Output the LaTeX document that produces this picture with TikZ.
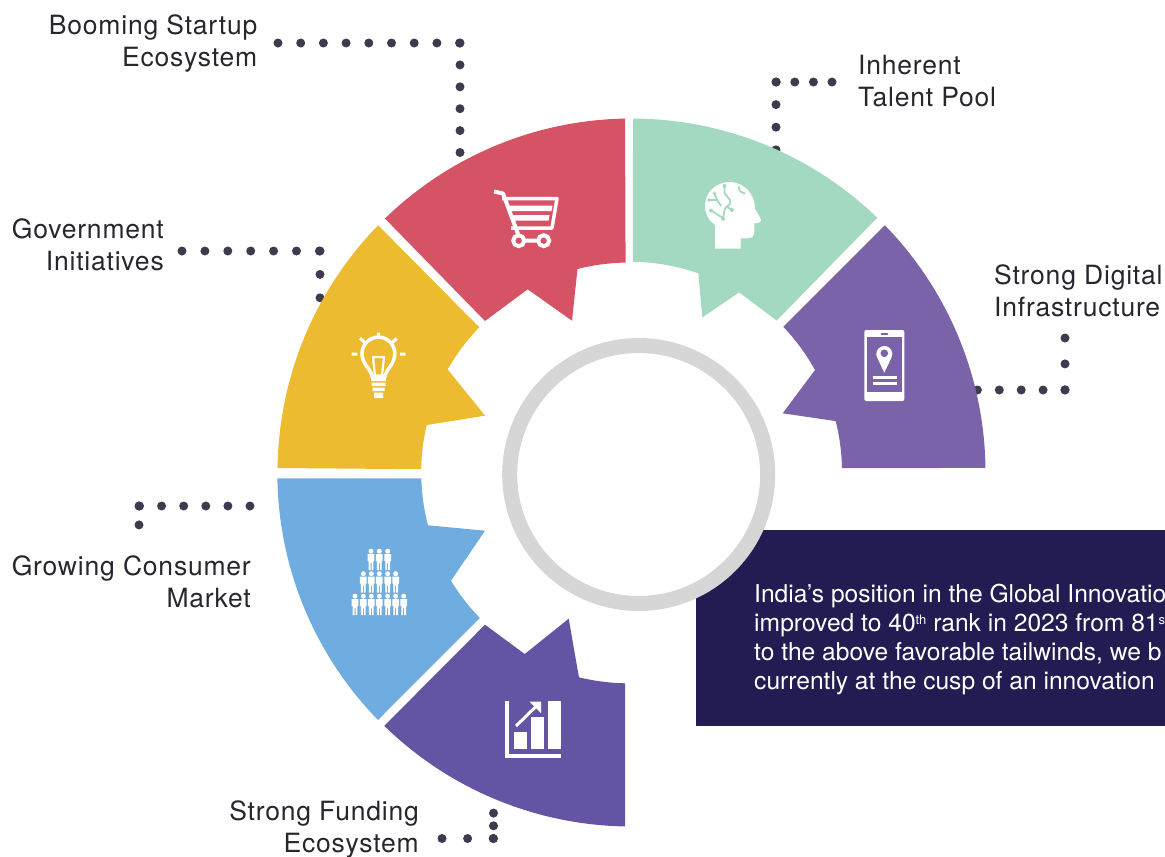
\documentclass[tikz,border=0pt]{standalone}
\usepackage{fontspec}
\setmainfont{TeX Gyre Heros}
\newfontfamily\labelfont{TeX Gyre Heros}[LetterSpace=3]
\usepackage{tikz}
\definecolor{redseg}{HTML}{D65365}
\definecolor{greenseg}{HTML}{A3D8C1}
\definecolor{violetseg}{HTML}{7B63AA}
\definecolor{yellowseg}{HTML}{EDBB2F}
\definecolor{blueseg}{HTML}{6FACDF}
\definecolor{indigoseg}{HTML}{6454A3}
\definecolor{navybox}{HTML}{221C52}
\definecolor{ringgray}{HTML}{D6D6D6}
\definecolor{dotgray}{HTML}{3D3B4F}
\definecolor{labelgray}{HTML}{26262E}
\newcommand{\supmark}[1]{\raisebox{7.5pt}{\fontsize{13}{13}\selectfont #1}}
\tikzset{
	lbl/.style={inner sep=0pt, text=labelgray, font={\labelfont\fontsize{26.5}{32}\selectfont}},
	infoline/.style={anchor=base west, inner sep=0pt, text=white, font={\fontsize{24.6}{29}\selectfont}},
	dotline/.style={draw=dotgray, line width=9pt, line cap=round, dash pattern=on 0pt off #1pt},
	ico/.style={white, fill=white, line join=round},
	person/.pic={
		\fill[white] (0,1.2) circle (2.5);
		\fill[white] (-3.4,4) -- (3.4,4) -- (3.4,11) -- (2.4,11) -- (2.4,20) -- (0.5,20) -- (0.5,13) -- (-0.5,13) -- (-0.5,20) -- (-2.4,20) -- (-2.4,11) -- (-3.4,11) -- cycle;
	}
}
\begin{document}
\begin{tikzpicture}[x=1pt, y=-1pt]
	\useasboundingbox (0,0) rectangle (1165,857);
	\coordinate (bm1) at (278,43);
	\coordinate (bm2) at (460,43);
	\coordinate (bm3) at (460,153);
	\coordinate (ih1) at (832,82);
	\coordinate (ih2) at (776,82);
	\coordinate (ih3) at (776,150);
	\coordinate (dg1) at (1065,338);
	\coordinate (dg2) at (1065,390);
	\coordinate (dg3) at (977,390);
	\coordinate (gv1) at (182,251);
	\coordinate (gv2) at (320,251);
	\coordinate (gv3) at (320,298);
	\coordinate (gr1) at (250,506);
	\coordinate (gr2) at (139,506);
	\coordinate (gr3) at (139,525);
	\coordinate (fd1) at (442,838.5);
	\coordinate (fd2) at (493.5,838.5);
	\coordinate (fd3) at (493.5,813);
	\draw[dotline=22.7] (bm1) -- (bm2);
	\draw[dotline=21.9] (bm2) -- (bm3);
	\draw[dotline=18.6] (ih1) -- (ih2);
	\draw[dotline=22.6] (ih2) -- (ih3);
	\draw[dotline=25.9] (dg1) -- (dg2);
	\draw[dotline=21.9] (dg2) -- (dg3);
	\draw[dotline=22.9] (gv1) -- (gv2);
	\draw[dotline=23.4] (gv2) -- (gv3);
	\draw[dotline=22.1] (gr1) -- (gr2);
	\draw[dotline=18.9] (gr2) -- (gr3);
	\draw[dotline=25.6] (fd1) -- (fd2);
	\draw[dotline=12.7] (fd2) -- (fd3);

	\fill[redseg] (631.5,472.5) ++(268.95:354) arc[start angle=268.95, end angle=225.85, radius=354] -- (485,321) -- (527.7,289.3) -- (572,320.7) -- (577.5,269) arc[start angle=255.8, end angle=269, radius=211] -- cycle;
	\fill[greenseg] (631.5,472.5) ++(270.25:354) arc[start angle=270.25, end angle=313.97, radius=354] -- (776.7,320.5) -- (739,292.3) -- (702.3,317.5) -- (698.3,273.3) arc[start angle=289.1, end angle=271, radius=211.4] -- cycle;
	\fill[violetseg] (631.5,472.5) ++(315.7:354) arc[start angle=315.7, end angle=359.27, radius=354] -- (842,468) arc[start angle=358.7, end angle=346, radius=214] -- (782.7,413.3) -- (815,370) arc[start angle=331, end angle=316.5, radius=212] -- cycle;
	\fill[yellowseg] (631.5,472.5) ++(180.73:354) arc[start angle=180.73, end angle=224.3, radius=354] -- (479.3,327.3) arc[start angle=224.2, end angle=209.7, radius=208.5] -- (485,415.7) -- (426.7,425) arc[start angle=193.3, end angle=181, radius=208] -- cycle;
	\fill[blueseg] (421.3,478.3) arc[start angle=178.5, end angle=165.4, radius=208] -- (485,530.7) -- (451,580.7) arc[start angle=148.8, end angle=135.8, radius=208] -- (378,720) arc[start angle=135.7, end angle=179.1, radius=354] -- cycle;
	\fill[indigoseg] (631.5,472.5) ++(134.3:354) arc[start angle=134.3, end angle=91.05, radius=354] -- (625,683.3) arc[start angle=91.1, end angle=103.8, radius=210] -- (568.7,618.7) -- (524.7,654) -- (485,624.7) -- cycle;

	\node[fill=navybox, inner sep=0pt, minimum width=469pt, minimum height=196pt, anchor=north west] (infobox) at (696,530) {};
	\node[circle, draw=ringgray, fill=white, line width=15pt, inner sep=0pt, minimum size=258pt] (ring) at (638.7,474.5) {};
	\node[infoline] (info1) at (754,602.7) {India’s position in the Global Innovatio};
	\node[infoline] (info2) at (754,631.7) {improved to 40\supmark{th} rank in 2023 from 81\supmark{s}};
	\node[infoline] (info3) at (754,660.5) {to the above favorable tailwinds, we b};
	\node[infoline] (info4) at (754,689.3) {currently at the cusp of an innovation};

	\node[lbl, align=right, anchor=north east] (booming) at (257.5,14.5) {Booming Startup\\Ecosystem};
	\node[lbl, align=left, anchor=north west] (inherent) at (858,54.5) {Inherent\\Talent Pool};
	\node[lbl, align=left, anchor=north west] (digital) at (994,264.5) {Strong Digital\\Infrastructure};
	\node[lbl, align=right, anchor=north east] (government) at (164,218.5) {Government\\Initiatives};
	\node[lbl, align=right, anchor=north east] (consumer) at (251,555.5) {Growing Consumer\\Market};
	\node[lbl, align=right, anchor=north east] (funding) at (419,800.5) {Strong Funding\\Ecosystem};

	\draw[white, line width=4pt, line join=round] (494,191.5) -- (503,193.5) -- (518,234);
	\draw[white, line width=3.5pt, line join=round] (502,198.5) -- (557,198.5) -- (552,228) -- (511,228);
	\fill[white] (508.5,205.5) -- (552.5,205.5) -- (551.5,211) -- (510.5,211) -- cycle;
	\fill[white] (511.5,215) -- (549.5,215) -- (548.5,220.5) -- (513.5,220.5) -- cycle;
	\draw[white, line width=4pt] (518.7,240.7) circle (5.5) (543.7,240.7) circle (5.5) (524,240.7) -- (538,240.7);

	\fill[ico] (715,248.7) -- (740.7,248.7) -- (740.7,238.3) -- (747,238.3) .. controls (752,238.3) and (754.3,236) .. (754.3,232) -- (754.3,223.5) -- (759,222.5) .. controls (762,221.5) and (761,219) .. (760,217.5) -- (755,209) .. controls (755,193) and (743,182) .. (730,182) .. controls (715,182) and (705,193) .. (705,206) .. controls (705,214) and (709,221) .. (715,225) -- cycle;
	\draw[greenseg, line width=1.8pt, line join=round] (724.5,186) -- (724.5,193) -- (730,200) -- (730,204) -- (725,208.5) -- (723,218) -- (711,210.5);
	\draw[greenseg, line width=1.8pt, line join=round] (738.5,186.5) -- (740,191.5) -- (745,193.5);
	\draw[greenseg, line width=1.8pt, line join=round] (709,200) -- (717,200) -- (721,206);
	\draw[greenseg, line width=1.8pt] (714.5,193.5) -- (717,200) (732,210) -- (726,206);
	\fill[greenseg] (724.5,186) circle (2) (711,210.5) circle (2) (723,219) circle (2) (709,200) circle (1.8) (714.5,193.5) circle (1.8) (732,210) circle (2);

	\fill[white, rounded corners=2pt] (864.3,330) rectangle (904.3,401);
	\fill[violetseg] (867.3,336.7) rectangle (901.7,391.7);
	\draw[violetseg, line width=1.5pt, line cap=round] (881.5,334) -- (887.5,334);
	\fill[white] (884.3,372.7) -- (877.4,358) arc[start angle=150, end angle=390, radius=8] -- cycle;
	\fill[violetseg] (884.3,353.3) circle (3.8);
	\draw[white, line width=2.5pt] (872.7,377.5) -- (897.3,377.5) (872.7,383.5) -- (897.3,383.5);

	\draw[white, line width=3.5pt] (372,376) .. controls (370,368) and (362,364) .. (362,353.5) arc[start angle=180, end angle=360, radius=16.4] .. controls (394.8,364) and (387,368) .. (385,376) -- cycle;
	\draw[white, line width=2.2pt, line join=round] (375,376) -- (373,357) -- (384,357) -- (382,376);
	\fill[white] (371,377.5) rectangle (386,381) (371.5,382.5) rectangle (385.5,386) (372.5,387.5) rectangle (384.5,391) (374,392.5) rectangle (383,398);
	\draw[white, line width=3pt] (378.3,332.7) -- (378.3,338.3) (360,338.3) -- (365,342.7) (396.7,338.3) -- (392.3,342.7) (351.7,354) -- (357.3,354) (400,354) -- (405.7,354);

	\foreach \px in {371,379.3,387.7}
		\pic at (\px,550) {person};
	\foreach \px in {363.3,371.3,379.3,387.7,395.7}
		\pic at (\px,572.5) {person};
	\foreach \px in {355,363.3,371.3,379.3,387.7,395.7,403.7}
		\pic at (\px,595) {person};

	\fill[white] (505,701) rectangle (509,758.3);
	\fill[white] (505,754) rectangle (561,758.3);
	\fill[white] (514,731.7) rectangle (526.7,749);
	\fill[white] (531,716.7) rectangle (544,749);
	\fill[white] (548,701) rectangle (561,749);
	\draw[white, line width=3pt] (516,726) -- (538,704.5);
	\fill[white] (529.5,701.7) -- (541,701.7) -- (541,713) -- cycle;
\end{tikzpicture}
\end{document}
